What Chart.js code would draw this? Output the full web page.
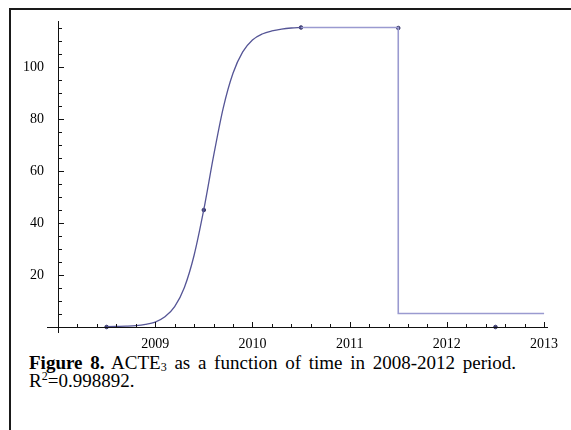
<!DOCTYPE html>
<html>
<head>
<meta charset="utf-8">
<script src="https://cdn.jsdelivr.net/npm/chart.js@4.4.1/dist/chart.umd.min.js"></script>
<style>
  body { margin: 0; background: #fff; width: 571px; height: 430px; overflow: hidden; position: relative; }
  #frame { position: absolute; left: 9px; top: 8px; width: 600px; height: 500px; border-left: 2px solid #1a1a1a; border-top: 2px solid #1a1a1a; }
  #chart { position: absolute; left: 0; top: 0; }
  #caption { position: absolute; left: 29px; top: 354px; width: 487px; font-family: "Liberation Serif", "Times New Roman", serif; font-size: 19px; line-height: 18px; text-align: justify; color: #000; }
  #caption sub { font-size: 12px; line-height: 0; vertical-align: -2px; }
  #caption sup { font-size: 12px; line-height: 0; vertical-align: 7px; }
</style>
</head>
<body>
<div id="frame"></div>
<canvas id="chart" width="571" height="352"></canvas>
<div id="caption"><b>Figure 8.</b> ACTE<sub>3</sub> as a function of time in 2008-2012 period. R<sup>2</sup>=0.998892.</div>

<script>
// fitted curve
const fitYears = [2008.5, 2008.6, 2008.7, 2008.8, 2008.9, 2009.0, 2009.1, 2009.2, 2009.3, 2009.4,
                  2009.5, 2009.6, 2009.7, 2009.8, 2009.9, 2010.0, 2010.1, 2010.2, 2010.3, 2010.4, 2010.5];
const fitValues = [0.1, 0.2, 0.3, 0.5, 1.0, 1.9, 3.9, 7.8, 15.2, 27.6,
                   45.2, 65.7, 84.3, 97.6, 105.8, 110.4, 112.7, 113.9, 114.6, 115.0, 115.2];

// plateau, drop and tail
const stepYears = [2010.5, 2011.5, 2011.5, 2013.0];
const stepValues = [115.2, 115.2, 5.2, 5.2];

// observed points
const obsYears = [2008.5, 2009.5, 2010.5, 2011.5, 2012.5];
const obsValues = [0, 45, 115.2, 115, 0];

const xTicks = [2009, 2010, 2011, 2012, 2013];
const yTicks = [20, 40, 60, 80, 100];

const toXY = (xs, ys) => xs.map((x, i) => ({ x: x, y: ys[i] }));

// Mathematica style axes: lines crossing at (2008, 0), ticks pointing inward
const axesPlugin = {
    id: 'axes',
    afterDatasetsDraw(chart) {
        const ctx = chart.ctx;
        const xs = chart.scales.x;
        const ys = chart.scales.y;
        const area = chart.chartArea;
        const x0 = xs.getPixelForValue(2008);
        const y0 = ys.getPixelForValue(0);

        ctx.save();
        ctx.strokeStyle = '#111';
        ctx.lineWidth = 1;
        ctx.beginPath();
        ctx.moveTo(x0 - 11, y0 + 0.5);
        ctx.lineTo(area.right + 1, y0 + 0.5);
        ctx.moveTo(x0 + 0.5, area.top);
        ctx.lineTo(x0 + 0.5, y0 + 6);

        // x ticks every 0.2 year
        for (let i = 1; i <= 25; i++) {
            const v = 2008 + i * 0.2;
            const px = Math.round(xs.getPixelForValue(v)) + 0.5;
            const len = i % 5 === 0 ? 5 : 3;
            ctx.moveTo(px, y0);
            ctx.lineTo(px, y0 - len);
        }
        // y ticks every 5
        for (let v = 5; v <= 115; v += 5) {
            const py = Math.round(ys.getPixelForValue(v)) + 0.5;
            const len = v % 20 === 0 ? 6 : 4;
            ctx.moveTo(x0, py);
            ctx.lineTo(x0 + len, py);
        }
        ctx.stroke();
        ctx.restore();
    }
};

const labelFont = { family: '"Liberation Serif", "Times New Roman", serif', size: 14 };

new Chart(document.getElementById('chart'), {
    type: 'scatter',
    data: {
        datasets: [
            {
                data: toXY(stepYears, stepValues),
                showLine: true,
                borderColor: '#9a9ad0',
                borderWidth: 1.6,
                pointRadius: 0,
                tension: 0,
                clip: false
            },
            {
                data: toXY(fitYears, fitValues),
                showLine: true,
                borderColor: '#555596',
                borderWidth: 1.3,
                pointRadius: 0,
                cubicInterpolationMode: 'monotone',
                clip: false
            },
            {
                data: toXY(obsYears, obsValues),
                showLine: false,
                backgroundColor: '#3c3c6e',
                borderColor: '#3c3c6e',
                pointRadius: 1.8,
                clip: false
            }
        ]
    },
    options: {
        responsive: false,
        animation: false,
        layout: { padding: { left: 0, top: 21, right: 24, bottom: 0 } },
        plugins: { legend: { display: false }, tooltip: { enabled: false } },
        scales: {
            x: {
                type: 'linear',
                min: 2008,
                max: 2013.03,
                afterBuildTicks: scale => { scale.ticks = xTicks.map(v => ({ value: v })); },
                afterFit: scale => { scale.height = 25; },
                grid: { display: false },
                border: { display: false },
                ticks: { color: '#000', font: labelFont, padding: 1, maxRotation: 0, callback: v => String(v) }
            },
            y: {
                min: 0,
                max: 117.7,
                afterBuildTicks: scale => { scale.ticks = yTicks.map(v => ({ value: v })); },
                afterFit: scale => { scale.width = 58; },
                grid: { display: false },
                border: { display: false },
                ticks: { color: '#000', font: labelFont, padding: 6 }
            }
        }
    },
    plugins: [axesPlugin]
});
</script>
</body>
</html>
